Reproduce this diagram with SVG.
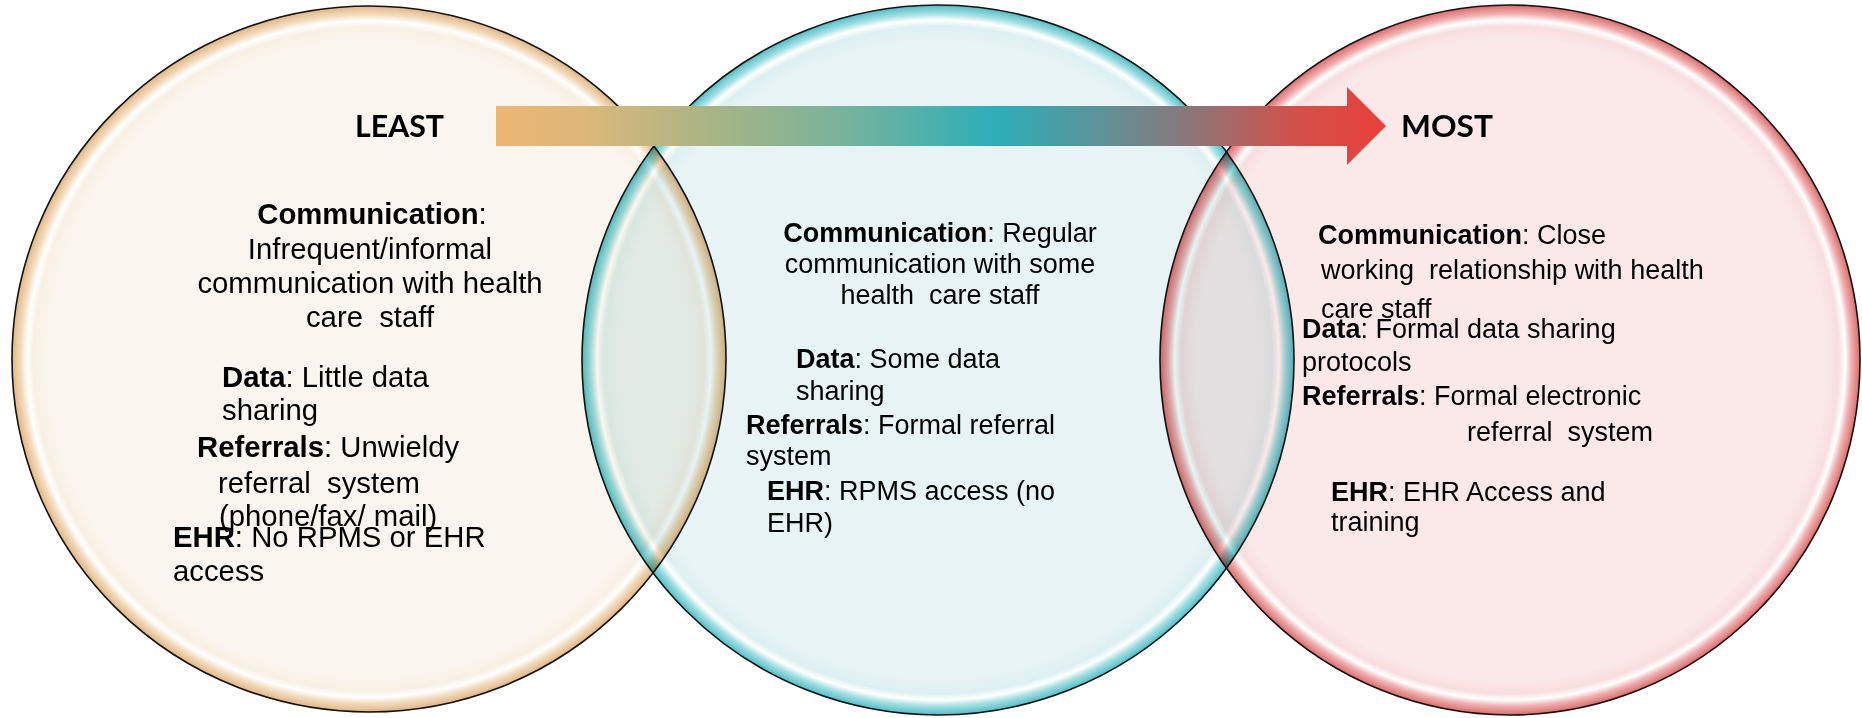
<svg xmlns="http://www.w3.org/2000/svg" width="1862" height="718" viewBox="0 0 1862 718">
<style>
.node{mix-blend-mode:multiply}
.ell{stroke:#111;stroke-width:1.6}
.t{font-family:"Liberation Sans",Arial,sans-serif;font-size:27px;fill:#000}
.l{font-size:29.3px}
.b{font-weight:bold}
.h{font-family:Lato,"Liberation Sans",sans-serif;font-weight:bold;font-size:30px;fill:#000}
</style>
<defs>
<radialGradient id="gL" cx="0.5" cy="0.5" r="0.5">
<stop offset="0" stop-color="#FAF6EF"/>
<stop offset="0.9" stop-color="#FAF6EF"/>
<stop offset="0.94" stop-color="#F8F0E4"/>
<stop offset="0.958" stop-color="#FFFFFF"/>
<stop offset="0.975" stop-color="#F3DDC0"/>
<stop offset="1" stop-color="#E0B584"/>
</radialGradient>
<radialGradient id="gM" cx="0.5" cy="0.5" r="0.5">
<stop offset="0" stop-color="#E7F3F4"/>
<stop offset="0.9" stop-color="#E7F3F4"/>
<stop offset="0.94" stop-color="#DDF0F1"/>
<stop offset="0.958" stop-color="#FFFFFF"/>
<stop offset="0.975" stop-color="#A6E0E4"/>
<stop offset="1" stop-color="#4FBEC6"/>
</radialGradient>
<radialGradient id="gR" cx="0.5" cy="0.5" r="0.5">
<stop offset="0" stop-color="#FBE9E9"/>
<stop offset="0.9" stop-color="#FBE9E9"/>
<stop offset="0.94" stop-color="#F8DEDE"/>
<stop offset="0.958" stop-color="#FFFFFF"/>
<stop offset="0.975" stop-color="#F0B2B2"/>
<stop offset="1" stop-color="#DC6A6A"/>
</radialGradient>
<linearGradient id="gA" gradientUnits="userSpaceOnUse" x1="496" y1="0" x2="1386" y2="0">
<stop offset="0" stop-color="#EBB673"/>
<stop offset="0.1" stop-color="#DDB779"/>
<stop offset="0.25" stop-color="#A6B486"/>
<stop offset="0.4" stop-color="#74B39D"/>
<stop offset="0.56" stop-color="#2CAEB9"/>
<stop offset="0.68" stop-color="#5E9299"/>
<stop offset="0.78" stop-color="#8C7679"/>
<stop offset="0.9" stop-color="#D3504A"/>
<stop offset="1" stop-color="#EA403A"/>
</linearGradient>
</defs>
<rect x="0" y="0" width="1862" height="718" fill="#FFFFFF"/>

<g id="node-least" class="node">
<ellipse class="ell" cx="369" cy="359" rx="357" ry="353" fill="url(#gL)"/>
<text class="h" x="355" y="137" textLength="89" lengthAdjust="spacingAndGlyphs">LEAST</text>
<text class="t l" text-anchor="middle" x="372" y="224"><tspan class="b">Communication</tspan>:</text>
<text class="t l" text-anchor="middle" x="370" y="259">Infrequent/informal</text>
<text class="t l" text-anchor="middle" x="370" y="293">communication with health</text>
<text class="t l" text-anchor="middle" x="370" y="327" xml:space="preserve">care  staff</text>
<text class="t l" x="222" y="387"><tspan class="b">Data</tspan>: Little data</text>
<text class="t l" x="222" y="420">sharing</text>
<text class="t l" x="197" y="457"><tspan class="b">Referrals</tspan>: Unwieldy</text>
<text class="t l" x="218" y="493" xml:space="preserve">referral  system</text>
<text class="t l" x="219" y="526">(phone/fax/ mail)</text>
<text class="t l" x="173" y="547"><tspan class="b">EHR</tspan>: No RPMS or EHR</text>
<text class="t l" x="173" y="581">access</text>
</g>

<g id="node-middle" class="node">
<ellipse class="ell" cx="938" cy="360" rx="356" ry="355" fill="url(#gM)"/>
<text class="t" text-anchor="middle" x="940" y="242"><tspan class="b">Communication</tspan>: Regular</text>
<text class="t" text-anchor="middle" x="940" y="273">communication with some</text>
<text class="t" text-anchor="middle" x="940" y="304" xml:space="preserve">health  care staff</text>
<text class="t" x="796" y="368"><tspan class="b">Data</tspan>: Some data</text>
<text class="t" x="796" y="400">sharing</text>
<text class="t" x="746" y="434"><tspan class="b">Referrals</tspan>: Formal referral</text>
<text class="t" x="746" y="465">system</text>
<text class="t" x="767" y="500"><tspan class="b">EHR</tspan>: RPMS access (no</text>
<text class="t" x="767" y="532">EHR)</text>
</g>

<g id="node-most" class="node">
<ellipse class="ell" cx="1510" cy="360" rx="350" ry="355" fill="url(#gR)"/>
<text class="h" x="1401" y="137" textLength="92" lengthAdjust="spacingAndGlyphs">MOST</text>
<text class="t" x="1318" y="244"><tspan class="b">Communication</tspan>: Close</text>
<text class="t" x="1321" y="279" xml:space="preserve">working  relationship with health</text>
<text class="t" x="1321" y="318">care staff</text>
<text class="t" x="1302" y="338"><tspan class="b">Data</tspan>: Formal data sharing</text>
<text class="t" x="1302" y="371">protocols</text>
<text class="t" x="1302" y="405"><tspan class="b">Referrals</tspan>: Formal electronic</text>
<text class="t" x="1467" y="441" xml:space="preserve">referral  system</text>
<text class="t" x="1331" y="501"><tspan class="b">EHR</tspan>: EHR Access and</text>
<text class="t" x="1331" y="531">training</text>
</g>

<g id="connectors">
<path id="arrow-least-most" d="M496,106 H1347 V87 L1386,126 L1347,165 V146 H496 Z" fill="url(#gA)"/>
</g>
</svg>
